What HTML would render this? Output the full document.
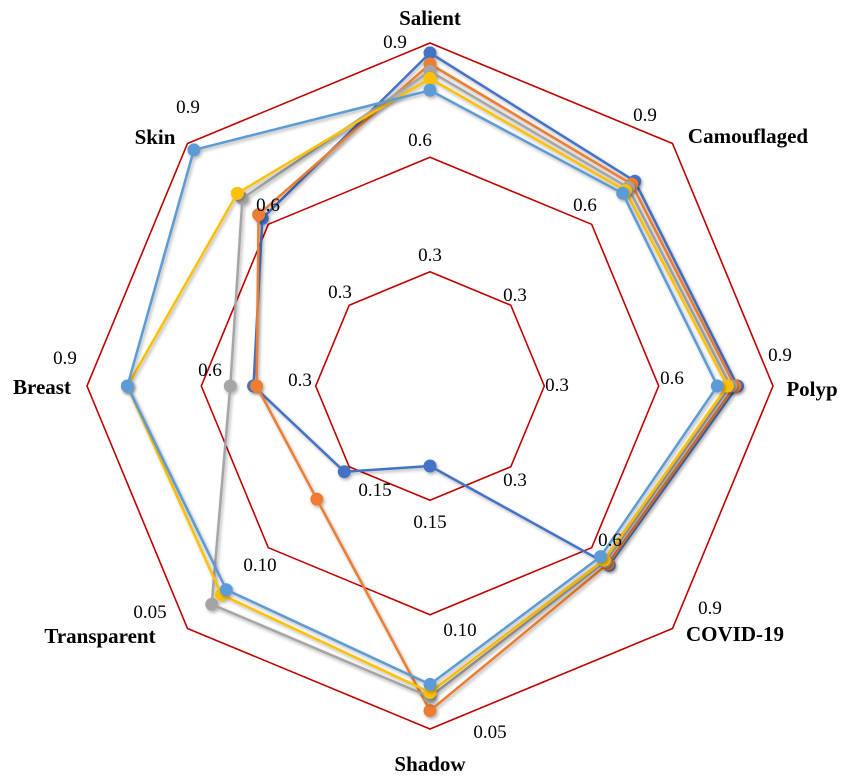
<!DOCTYPE html>
<html><head><meta charset="utf-8"><style>
html,body{margin:0;padding:0;background:#fff;}
svg{display:block;font-family:"Liberation Serif",serif;}
</style></head><body>
<svg id="chart" width="855" height="777" viewBox="0 0 855 777" xmlns="http://www.w3.org/2000/svg">
<g id="grid"></g>
<g id="series"></g>
<g id="labels"></g>
</svg>
<script>
const categories = ["Salient","Camouflaged","Polyp","COVID-19","Shadow","Transparent","Breast","Skin"];
const inverted = [false,false,false,false,true,true,false,false];
const seriesNames = ["method-a","method-b","method-c","method-d","method-e"];
const seriesColors = ["#4472C4","#ED7D31","#A5A5A5","#FFC000","#5B9BD5"];
const methodA = [0.874,0.760,0.807,0.665,0.165,0.147,0.463,0.622];
const methodB = [0.845,0.749,0.800,0.660,0.058,0.130,0.455,0.636];
const methodC = [0.826,0.736,0.789,0.651,0.064,0.065,0.524,0.696];
const methodD = [0.807,0.725,0.780,0.646,0.066,0.071,0.794,0.715];
const methodE = [0.776,0.715,0.754,0.633,0.0695,0.074,0.794,0.876];
const seriesValues = [methodA,methodB,methodC,methodD,methodE];
const ringTicksNormal = ["0.3","0.6","0.9"];
const ringTicksInverted = ["0.15","0.10","0.05"];

const CX=430, CY=386, R=343, NS="http://www.w3.org/2000/svg";
function angle(i){return -Math.PI/2 + i*Math.PI/4;}
function radius(v,i){
  if(inverted[i]) return R*(0.2 - v)/0.15;
  return R*v/0.9;
}
function pt(v,i){const r=radius(v,i),a=angle(i);return [CX+r*Math.cos(a),CY+r*Math.sin(a)];}
function el(tag,attrs,parent){const e=document.createElementNS(NS,tag);for(const k in attrs)e.setAttribute(k,attrs[k]);parent.appendChild(e);return e;}

const grid=document.getElementById('grid');
[1,2,3].forEach(k=>{
  const r=R*k/3;
  const pts=categories.map((c,i)=>{const a=angle(i);return (CX+r*Math.cos(a)).toFixed(1)+","+(CY+r*Math.sin(a)).toFixed(1);}).join(" ");
  const p=el('polygon',{points:pts,fill:"none",stroke:"#C00000","stroke-width":1.6},grid);
  
  
});

const sl=document.getElementById('series');
const defs=el('defs',{},sl);
const f=el('filter',{id:"sh",x:"-20%",y:"-20%",width:"140%",height:"140%"},defs);
el('feDropShadow',{dx:1.5,dy:2,stdDeviation:1.5,"flood-color":"#000","flood-opacity":0.3},f);
seriesValues.forEach((vals,s)=>{
  const g=el('g',{filter:"url(#sh)"},sl);
  
  
  const pts=vals.map((v,i)=>pt(v,i));
  const line=el('polygon',{points:pts.map(p=>p[0].toFixed(1)+","+p[1].toFixed(1)).join(" "),fill:"none",stroke:seriesColors[s],"stroke-width":2.5,"stroke-linejoin":"round"},g);
  
  
  pts.forEach((p,i)=>{
    const c=el('circle',{cx:p[0],cy:p[1],r:6.5,fill:seriesColors[s]},g);
    
    
  });
});

const lab=document.getElementById('labels');
const catPos=[[430,25],[748,143],[812,396],[735,641],[430,771],[100,643],[42,394],[155,144]];
categories.forEach((c,i)=>{
  const t=el('text',{x:catPos[i][0],y:catPos[i][1],"text-anchor":"middle","font-size":21,"font-weight":"bold",fill:"#000"},lab);
  t.textContent=c;
  
  
});
const tickPos=[
 [[430,261],[420,146],[395,48]],
 [[515,301],[585,211],[645,121]],
 [[557,391],[672,384],[780,361]],
 [[515,486],[610,546],[710,614]],
 [[430,528],[460,636],[490,738]],
 [[375,496],[260,571],[150,618]],
 [[300,386],[210,376],[65,364]],
 [[340,298],[268,211],[188,113]]
];
categories.forEach((c,i)=>{
  const ticks=inverted[i]?ringTicksInverted:ringTicksNormal;
  ticks.forEach((tk,k)=>{
    const t=el('text',{x:tickPos[i][k][0],y:tickPos[i][k][1],"text-anchor":"middle","font-size":19,fill:"#000"},lab);
    t.textContent=tk;
    
    
  });
});
</script>
</body></html>
